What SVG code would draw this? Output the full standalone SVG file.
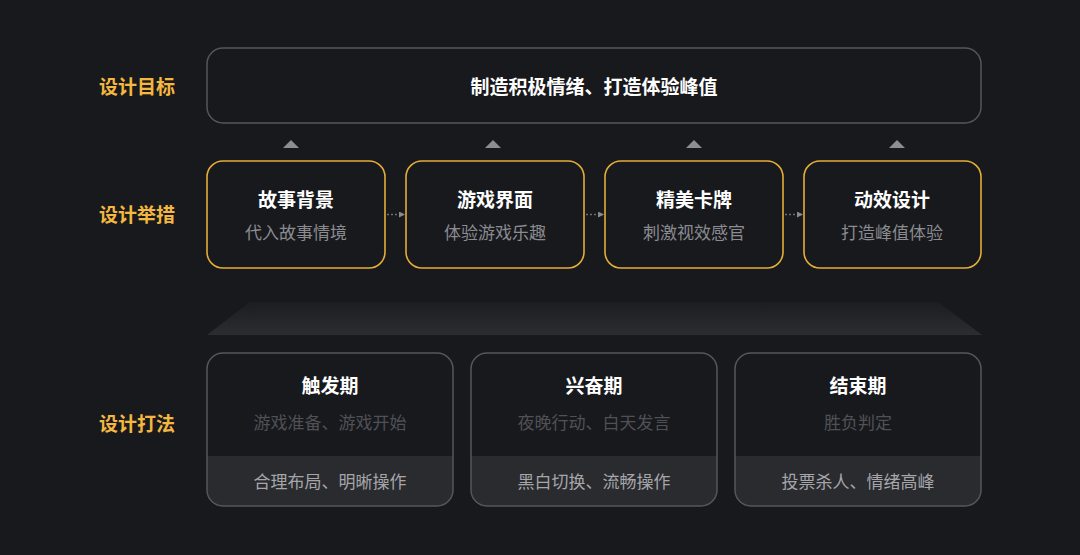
<svg xmlns="http://www.w3.org/2000/svg" width="1080" height="555" viewBox="0 0 1080 555">
<defs>
<linearGradient id="trap" x1="0" y1="0" x2="0" y2="1">
<stop offset="0" stop-color="#1c1d21"/>
<stop offset="1" stop-color="#2c2d31"/>
</linearGradient>
<marker id="ah" viewBox="0 0 6 6" refX="5" refY="3" markerWidth="6" markerHeight="6" markerUnits="userSpaceOnUse" orient="auto">
<path d="M0,0 L6,3 L0,6 Z" fill="#8a8a8e"/>
</marker>
</defs>
<style>
text{font-family:"Noto Sans CJK SC","Noto Sans",sans-serif;text-anchor:middle}
.lbl{fill:#f4b740;font-size:19px;font-weight:700}
.t{fill:#ffffff;font-size:19px;font-weight:700}
.s1{fill:#8b8b90;font-size:17px}
.s2{fill:#505156;font-size:17px}
.s3{fill:#a6a6aa;font-size:17px}
.gb{fill:#18191d;stroke:#55565a;stroke-width:1.5}
.ob{fill:#18191d;stroke:#e3ad38;stroke-width:1.6}
.bb{fill:none;stroke:#56575b;stroke-width:1.5}
.band{fill:#2a2b2f}
.tri{fill:#8e8e92}
.con{stroke:#6e6e72;stroke-width:1.5;stroke-dasharray:2 2;fill:none}
</style>
<rect width="1080" height="555" fill="#18191d"/>

<g id="labels">
<text class="lbl" x="137" y="94">设计目标</text>
<text class="lbl" x="137" y="222">设计举措</text>
<text class="lbl" x="137" y="431">设计打法</text>
</g>

<g id="goal">
<rect class="gb" x="207" y="48" width="774" height="75" rx="16"/>
<text class="t" x="594" y="93.5">制造积极情绪、打造体验峰值</text>
</g>

<g id="triangles">
<path class="tri" d="M283,148 L291,140 L299,148 Z"/>
<path class="tri" d="M485,148 L493,140 L501,148 Z"/>
<path class="tri" d="M686,148 L694,140 L702,148 Z"/>
<path class="tri" d="M889,148 L897,140 L905,148 Z"/>
</g>

<g id="m1">
<rect class="ob" x="207" y="161" width="178" height="107" rx="16"/>
<text class="t" x="296" y="206.5">故事背景</text>
<text class="s1" x="296" y="239">代入故事情境</text>
</g>
<g id="m2">
<rect class="ob" x="406" y="161" width="178" height="107" rx="16"/>
<text class="t" x="495" y="206.5">游戏界面</text>
<text class="s1" x="495" y="239">体验游戏乐趣</text>
</g>
<g id="m3">
<rect class="ob" x="605" y="161" width="178" height="107" rx="16"/>
<text class="t" x="694" y="206.5">精美卡牌</text>
<text class="s1" x="694" y="239">刺激视效感官</text>
</g>
<g id="m4">
<rect class="ob" x="804" y="161" width="177" height="107" rx="16"/>
<text class="t" x="892" y="206.5">动效设计</text>
<text class="s1" x="892" y="239">打造峰值体验</text>
</g>

<g id="connectors">
<line class="con" x1="387" y1="214.5" x2="404" y2="214.5" marker-end="url(#ah)"/>
<line class="con" x1="586" y1="214.5" x2="603" y2="214.5" marker-end="url(#ah)"/>
<line class="con" x1="785" y1="214.5" x2="802" y2="214.5" marker-end="url(#ah)"/>
</g>

<g id="platform">
<path d="M250,302 L938,302 L982,335 L207,335 Z" fill="url(#trap)"/>
</g>

<g id="p1">
<rect x="207" y="353" width="246" height="153" rx="16" fill="#18191d"/>
<path class="band" d="M207,456 H453 V490 A16,16 0 0 1 437,506 H223 A16,16 0 0 1 207,490 Z"/>
<rect class="bb" x="207" y="353" width="246" height="153" rx="16"/>
<text class="t" x="330" y="393">触发期</text>
<text class="s2" x="330" y="429">游戏准备、游戏开始</text>
<text class="s3" x="330" y="488">合理布局、明晰操作</text>
</g>
<g id="p2">
<rect x="471" y="353" width="246" height="153" rx="16" fill="#18191d"/>
<path class="band" d="M471,456 H717 V490 A16,16 0 0 1 701,506 H487 A16,16 0 0 1 471,490 Z"/>
<rect class="bb" x="471" y="353" width="246" height="153" rx="16"/>
<text class="t" x="594" y="393">兴奋期</text>
<text class="s2" x="594" y="429">夜晚行动、白天发言</text>
<text class="s3" x="594" y="488">黑白切换、流畅操作</text>
</g>
<g id="p3">
<rect x="735" y="353" width="246" height="153" rx="16" fill="#18191d"/>
<path class="band" d="M735,456 H981 V490 A16,16 0 0 1 965,506 H751 A16,16 0 0 1 735,490 Z"/>
<rect class="bb" x="735" y="353" width="246" height="153" rx="16"/>
<text class="t" x="858" y="393">结束期</text>
<text class="s2" x="858" y="429">胜负判定</text>
<text class="s3" x="858" y="488">投票杀人、情绪高峰</text>
</g>
</svg>
